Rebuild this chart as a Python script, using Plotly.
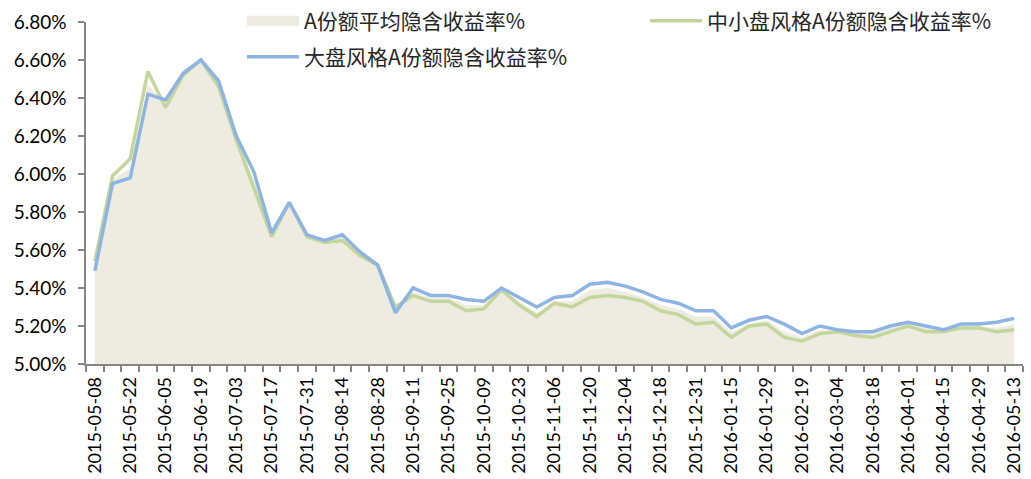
import plotly.graph_objects as go

dates = ["2015-05-08","2015-05-15","2015-05-22","2015-05-29","2015-06-05","2015-06-12","2015-06-19","2015-06-26",
         "2015-07-03","2015-07-10","2015-07-17","2015-07-24","2015-07-31","2015-08-07","2015-08-14","2015-08-21",
         "2015-08-28","2015-09-04","2015-09-11","2015-09-18","2015-09-25","2015-09-30","2015-10-09","2015-10-16",
         "2015-10-23","2015-10-30","2015-11-06","2015-11-13","2015-11-20","2015-11-27","2015-12-04","2015-12-11",
         "2015-12-18","2015-12-25","2015-12-31","2016-01-08","2016-01-15","2016-01-22","2016-01-29","2016-02-05",
         "2016-02-19","2016-02-26","2016-03-04","2016-03-11","2016-03-18","2016-03-25","2016-04-01","2016-04-08",
         "2016-04-15","2016-04-22","2016-04-29","2016-05-06","2016-05-13"]

avg_A = [5.52,5.97,6.03,6.47,6.37,6.53,6.60,6.47,6.19,5.97,5.68,5.85,5.67,5.65,5.67,5.58,
         5.52,5.29,5.38,5.35,5.35,5.31,5.31,5.40,5.33,5.27,5.33,5.33,5.39,5.40,5.38,5.35,
         5.31,5.29,5.25,5.25,5.17,5.21,5.23,5.17,5.14,5.18,5.17,5.16,5.16,5.19,5.21,5.19,
         5.17,5.20,5.20,5.19,5.21]

small_mid_A = [5.54,5.99,6.08,6.54,6.35,6.52,6.60,6.46,6.18,5.93,5.67,5.85,5.67,5.64,5.65,5.57,
               5.52,5.30,5.36,5.33,5.33,5.28,5.29,5.39,5.31,5.25,5.32,5.30,5.35,5.36,5.35,5.33,
               5.28,5.26,5.21,5.22,5.14,5.20,5.21,5.14,5.12,5.16,5.17,5.15,5.14,5.17,5.20,5.17,
               5.17,5.19,5.19,5.17,5.18]

large_A = [5.49,5.95,5.98,6.42,6.39,6.53,6.60,6.49,6.20,6.01,5.69,5.85,5.68,5.65,5.68,5.59,
           5.52,5.27,5.40,5.36,5.36,5.34,5.33,5.40,5.35,5.30,5.35,5.36,5.42,5.43,5.41,5.38,
           5.34,5.32,5.28,5.28,5.19,5.23,5.25,5.21,5.16,5.20,5.18,5.17,5.17,5.20,5.22,5.20,
           5.18,5.21,5.21,5.22,5.24]

names = ["A份额平均隐含收益率%", "中小盘风格A份额隐含收益率%", "大盘风格A份额隐含收益率%"]
y_ticks = [5.0, 5.2, 5.4, 5.6, 5.8, 6.0, 6.2, 6.4, 6.6, 6.8]

idx = list(range(len(dates)))
BEIGE, GREEN, BLUE = "#EEECE1", "#C3D69B", "#8EB4E3"

fig = go.Figure()
fig.add_trace(go.Scatter(x=idx, y=avg_A, name=names[0], mode="lines", fill="tozeroy",
                         fillcolor=BEIGE, line=dict(width=0, color=BEIGE), showlegend=False))
# legend-only entry for the area (wide swatch like the original)
fig.add_trace(go.Scatter(x=[None], y=[None], name=names[0], mode="lines",
                         line=dict(width=11, color=BEIGE), legend="legend"))
fig.add_trace(go.Scatter(x=idx, y=small_mid_A, name=names[1], mode="lines",
                         line=dict(color=GREEN, width=3.5), legend="legend2"))
fig.add_trace(go.Scatter(x=idx, y=large_A, name=names[2], mode="lines",
                         line=dict(color=BLUE, width=3.5), legend="legend3"))

W, H = 1031, 479
L, R, T, B = 86, 8, 22, 115

def cx(x):
    return x / W

def cy(y):
    return (H - y) / H

legfont = dict(family="Noto Sans CJK SC", size=21, color="#262626")
common = dict(font=legfont, bgcolor="rgba(0,0,0,0)", xanchor="left", yanchor="middle",
              xref="container", yref="container", itemwidth=52, borderwidth=0)

fig.update_layout(
    width=W, height=H,
    margin=dict(l=L, r=R, t=T, b=B, autoexpand=False),
    paper_bgcolor="white", plot_bgcolor="white",
    showlegend=True,
    legend=dict(x=cx(242), y=cy(21), **common),
    legend2=dict(x=cx(645), y=cy(21), **common),
    legend3=dict(x=cx(242), y=cy(57), **common),
    xaxis=dict(
        range=[-0.5, len(dates) - 0.5], automargin=False,
        tickmode="array", tickvals=idx[::2], ticktext=dates[::2],
        tickangle=-90, ticks="", showgrid=False, zeroline=False,
        showline=True, linecolor="#868686", linewidth=1.5,
        tickfont=dict(family="Lato", size=18, color="#000000"),
        ticklabelstandoff=4,
        minor=dict(tickmode="linear", tick0=-0.5, dtick=1, ticks="outside", ticklen=6,
                   tickcolor="#868686", tickwidth=1.5, showgrid=False),
    ),
    yaxis=dict(
        range=[5.0, 6.8], tickmode="array", tickvals=y_ticks, automargin=False,
        ticktext=[f"{v:.2f}%" for v in y_ticks],
        ticks="outside", ticklen=6, tickcolor="#868686", tickwidth=1.5,
        showgrid=False, zeroline=False, showline=True, linecolor="#868686", linewidth=1.5,
        tickfont=dict(family="Lato", size=19, color="#000000"),
        ticklabelstandoff=8,
    ),
)

fig.write_html("out.html", config={"displayModeBar": False})

# remove the browser's default page margin so the figure sits at the window origin
with open("out.html", "r", encoding="utf-8") as f:
    html = f.read()
html = html.replace("<head>", "<head><style>html,body{margin:0;padding:0;overflow:hidden;}</style>", 1)
with open("out.html", "w", encoding="utf-8") as f:
    f.write(html)
